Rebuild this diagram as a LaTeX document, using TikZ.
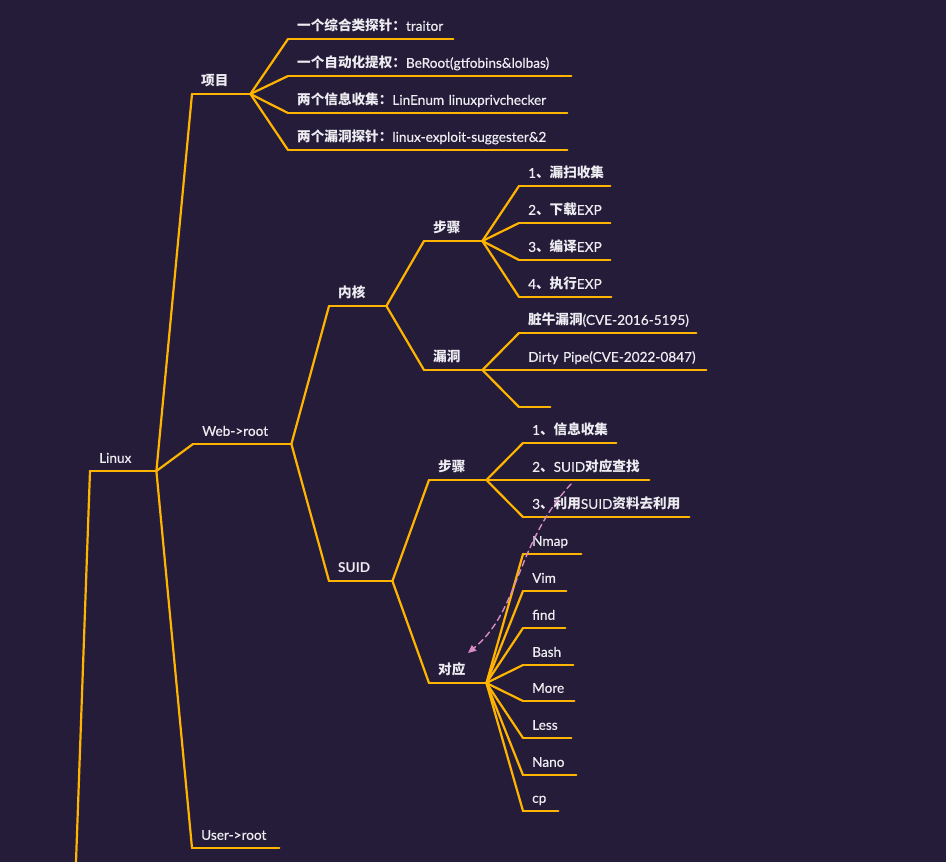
\documentclass[tikz,border=0pt]{standalone}
\usepackage{fontspec}
\setmainfont{Lato}[UprightFeatures={FakeBold=0.4}]
\newfontfamily\cjk{Noto Sans CJK SC}
\usetikzlibrary{arrows.meta}
\definecolor{bgpurple}{HTML}{251C3A}
\definecolor{branchorange}{HTML}{FFB400}
\definecolor{labelwhite}{HTML}{EDECF1}
\definecolor{linkpink}{HTML}{D98BC6}
\newcommand{\zh}[1]{{\cjk\bfseries #1}}
\exhyphenpenalty=10000
\hyphenpenalty=10000

\begin{document}
\begin{tikzpicture}[line cap=round,line join=round,x=1pt,y=-1pt,
    branch/.style={draw=branchorange, line width=2.2pt},
    topic/.style={anchor=south west, inner xsep=9pt, inner ysep=8pt, text depth=0pt,
        align=left, text=labelwhite, font=\fontsize{13.6pt}{15pt}\selectfont},
    link/.style={draw=linkpink, line width=1.4pt, dash pattern=on 6pt off 4pt,
        -{Triangle[length=8pt,width=7pt]}}]
    \useasboundingbox (0,0) rectangle (946,862);
    \fill[bgpurple] (0,0) rectangle (946,862);

    % root
    \coordinate (stem) at (76,862);
    \node[topic, text width=48pt] (linux) at (90,471) {Linux};

    % first level
    \node[topic, text width=40pt] (proj) at (192,94) {\zh{项目}};
    \node[topic, text width=80pt] (web) at (193,444) {Web->root};
    \node[topic, text width=69pt] (user) at (192,848) {User->root};

    % 项目
    \node[topic, text width=147pt] (p1) at (288,39) {\zh{一个综合类探针：}traitor};
    \node[topic, text width=265pt] (p2) at (288,76) {\zh{一个自动化提权：}BeRoot(gtfobins\&lolbas)};
    \node[topic, text width=261pt] (p3) at (288,113) {\zh{两个信息收集：}LinEnum~linuxprivchecker};
    \node[topic, text width=261pt] (p4) at (288,150) {\zh{两个漏洞探针：}linux-exploit-suggester\&2};

    % Web->root
    \node[topic, text width=39pt] (kern) at (329,306) {\zh{内核}};
    \node[topic, text width=45pt] (suid) at (329,581) {\textbf{SUID}};

    % 内核
    \node[topic, text width=40pt] (kstep) at (424,241) {\zh{步骤}};
    \node[topic, text width=40pt] (kvul) at (424,370) {\zh{漏洞}};
    \node[topic, text width=73pt] (k1) at (519,186) {1\zh{、漏扫收集}};
    \node[topic, text width=73pt] (k2) at (519,223) {2\zh{、下载}EXP};
    \node[topic, text width=73pt] (k3) at (519,260) {3\zh{、编译}EXP};
    \node[topic, text width=74pt] (k4) at (519,297) {4\zh{、执行}EXP};
    \node[topic, text width=159pt] (v1) at (519,333) {\zh{脏牛漏洞}(CVE-2016-5195)};
    \node[topic, text width=169pt] (v2) at (519,370) {Dirty~Pipe(CVE-2022-0847)};
    \node[topic, text width=13pt] (v3) at (519,407) {};

    % SUID
    \node[topic, text width=39pt] (sstep) at (429,480) {\zh{步骤}};
    \node[topic, text width=39pt] (smap) at (429,683) {\zh{对应}};
    \node[topic, text width=75pt] (s1) at (523,443) {1\zh{、信息收集}};
    \node[topic, text width=108pt] (s2) at (523,480) {2\zh{、}SUID\zh{对应查找}};
    \node[topic, text width=148pt] (s3) at (523,517) {3\zh{、利用}SUID\zh{资料去利用}};
    \node[topic, text width=40pt] (nmap) at (523,554) {Nmap};
    \node[topic, text width=25pt] (vim) at (523,591) {Vim};
    \node[topic, text width=24pt] (find) at (523,628) {find};
    \node[topic, text width=32pt] (bash) at (523,665) {Bash};
    \node[topic, text width=33pt] (more) at (523,701) {More};
    \node[topic, text width=30pt] (less) at (523,738) {Less};
    \node[topic, text width=35pt] (nano) at (523,775) {Nano};
    \node[topic, text width=17pt] (cp) at (523,811) {cp};

    % underlines
    \foreach \n in {linux,proj,web,user,p1,p2,p3,p4,kern,suid,kstep,kvul,k1,k2,k3,k4,
        v1,v2,v3,sstep,smap,s1,s2,s3,nmap,vim,find,bash,more,less,nano,cp}
        \draw[branch] (\n.south west) -- (\n.south east);

    % branches
    \draw[branch] (stem) -- (linux.south west);
    \foreach \a/\b in {linux/proj,linux/web,linux/user,
        proj/p1,proj/p2,proj/p3,proj/p4,
        web/kern,web/suid,
        kern/kstep,kern/kvul,
        kstep/k1,kstep/k2,kstep/k3,kstep/k4,
        kvul/v1,kvul/v2,kvul/v3,
        suid/sstep,suid/smap,
        sstep/s1,sstep/s2,sstep/s3,
        smap/nmap,smap/vim,smap/find,smap/bash,smap/more,smap/less,smap/nano,smap/cp}
        \draw[branch] (\a.south east) -- (\b.south west);

    % dashed link
    \draw[link] ([xshift=48pt,yshift=-4pt]s2.south west) .. controls +(-56,61) and +(52,-43) .. ([xshift=39pt,yshift=30pt]smap.south west);
\end{tikzpicture}
\end{document}
